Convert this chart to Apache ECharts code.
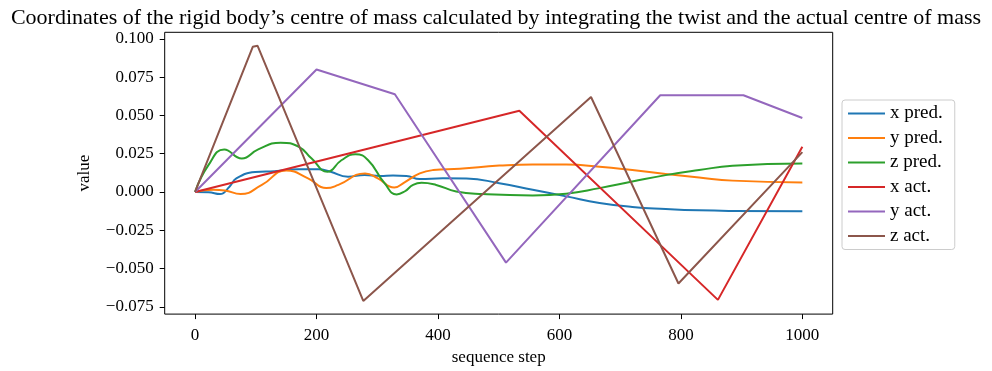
<!DOCTYPE html>
<html>
<head>
<meta charset="utf-8">
<script src="https://cdn.jsdelivr.net/npm/echarts@6/dist/echarts.min.js"></script>
<style>
html,body{margin:0;padding:0;background:#fff;}
#chart{width:992px;height:371px;}
</style>
</head>
<body>
<div id="chart"></div>
<script>
const seriesNames = ['x pred.', 'y pred.', 'z pred.', 'x act.', 'y act.', 'z act.'];
const colors = ['#1f77b4', '#ff7f0e', '#2ca02c', '#d62728', '#9467bd', '#8c564b'];

const xPredSteps = [0, 22, 41, 57, 68, 99, 131, 170, 203, 222, 252, 279, 305, 326, 348, 370, 408, 447, 501, 556, 611, 666, 720, 775, 830, 885, 1000];
const xPredVals  = [0, -0.0002, -0.0014, 0.0036, 0.0089, 0.0130, 0.0136, 0.0148, 0.0148, 0.0134, 0.0100, 0.0110, 0.0104, 0.0107, 0.0105, 0.0084, 0.0090, 0.0088, 0.0057, 0.0014, -0.0029, -0.0072, -0.0098, -0.0111, -0.0120, -0.0124, -0.0126];

const yPredSteps = [0, 30, 49, 75, 110, 150, 186, 216, 236, 280, 301, 328, 345, 370, 392, 436, 501, 556, 611, 666, 720, 775, 830, 885, 1000];
const yPredVals  = [0, 0.0015, 0.0010, -0.0014, 0.0046, 0.0140, 0.0089, 0.0025, 0.0046, 0.0121, 0.0089, 0.0029, 0.0063, 0.0121, 0.0143, 0.0152, 0.0172, 0.0180, 0.0179, 0.0165, 0.0143, 0.0117, 0.0094, 0.0074, 0.0061];

const zPredSteps = [0, 22, 48, 77, 104, 141, 171, 192, 218, 241, 264, 285, 312, 332, 345, 359, 373, 397, 430, 474, 556, 611, 666, 720, 775, 830, 885, 1000];
const zPredVals  = [0, 0.0175, 0.0278, 0.0218, 0.0278, 0.0322, 0.0295, 0.0218, 0.0132, 0.0207, 0.0246, 0.0207, 0.0057, -0.0016, 0.0003, 0.0046, 0.0060, 0.0046, 0.0003, -0.0014, -0.0023, -0.0012, 0.0025, 0.0068, 0.0110, 0.0143, 0.0171, 0.0186];

const xActSteps = [0, 534, 861, 1000];
const xActVals  = [0, 0.0530, -0.0705, 0.0295];

const yActSteps = [0, 200, 329, 512, 766, 903, 1000];
const yActVals  = [0, 0.0800, 0.0638, -0.0462, 0.0632, 0.0632, 0.0483];

const zActSteps = [0, 95, 103, 277, 652, 796, 1000];
const zActVals  = [0, 0.0948, 0.0955, -0.0712, 0.0620, -0.0598, 0.0260];

const xTicks = [0, 200, 400, 600, 800, 1000];
const yTicks = [-0.075, -0.05, -0.025, 0, 0.025, 0.05, 0.075, 0.1];

const steps = [xPredSteps, yPredSteps, zPredSteps, xActSteps, yActSteps, zActSteps];
const vals = [xPredVals, yPredVals, zPredVals, xActVals, yActVals, zActVals];
const smoothFlags = [true, true, true, false, false, false];

const FONT = 'Liberation Serif';

const chart = echarts.init(document.getElementById('chart'), null, {renderer: 'canvas'});

const series = seriesNames.map((name, i) => ({
  name: name,
  type: 'line',
  data: steps[i].map((s, j) => [s, vals[i][j]]),
  smooth: smoothFlags[i] ? 0.5 : false,
  symbol: 'none',
  showSymbol: false,
  lineStyle: {color: colors[i], width: 2},
  itemStyle: {color: colors[i]},
  animation: false,
  z: 2 + i
}));

chart.setOption({
  animation: false,
  backgroundColor: '#ffffff',
  title: {
    text: 'Coordinates of the rigid body\u2019s centre of mass calculated by integrating the twist and the actual centre of mass',
    left: 'center',
    top: 2,
    textStyle: {fontFamily: FONT, fontSize: 22, fontWeight: 'normal', color: '#000'}
  },
  grid: {
    left: 164.7, right: 159.3, top: 32.3, bottom: 53.7,
    show: true, borderColor: '#000', borderWidth: 1, backgroundColor: 'transparent'
  },
  legend: {
    orient: 'vertical',
    left: 842,
    top: 100,
    icon: 'rect',
    itemWidth: 37,
    itemHeight: 2,
    itemGap: 5.5,
    itemTextGap: 11,
    padding: [4, 12, 4, 6],
    borderColor: '#cccccc',
    borderWidth: 1,
    borderRadius: 3,
    backgroundColor: '#fff',
    data: seriesNames,
    textStyle: {fontFamily: FONT, fontSize: 19, color: '#000', lineHeight: 19}
  },
  xAxis: {
    type: 'value',
    min: -50,
    max: 1050,
    name: 'sequence step',
    nameLocation: 'middle',
    nameGap: 34,
    nameTextStyle: {fontFamily: FONT, fontSize: 17, color: '#000'},
    axisLine: {show: false, onZero: false},
    splitLine: {show: false},
    axisTick: {show: true, length: 5, lineStyle: {color: '#000', width: 1}, customValues: xTicks},
    axisLabel: {
      customValues: xTicks,
      margin: 13,
      fontFamily: FONT, fontSize: 17, color: '#000',
      formatter: v => String(v)
    }
  },
  yAxis: {
    type: 'value',
    min: -0.0798,
    max: 0.1043,
    name: 'value',
    nameLocation: 'middle',
    nameGap: 72,
    nameTextStyle: {fontFamily: FONT, fontSize: 17, color: '#000'},
    axisLine: {show: false, onZero: false},
    splitLine: {show: false},
    axisTick: {show: true, length: 5, lineStyle: {color: '#000', width: 1}, customValues: yTicks},
    axisLabel: {
      customValues: yTicks,
      margin: 11,
      fontFamily: FONT, fontSize: 17, color: '#000',
      formatter: v => v.toFixed(3).replace('-', '\u2212')
    }
  },
  series: series
});
</script>
</body>
</html>
